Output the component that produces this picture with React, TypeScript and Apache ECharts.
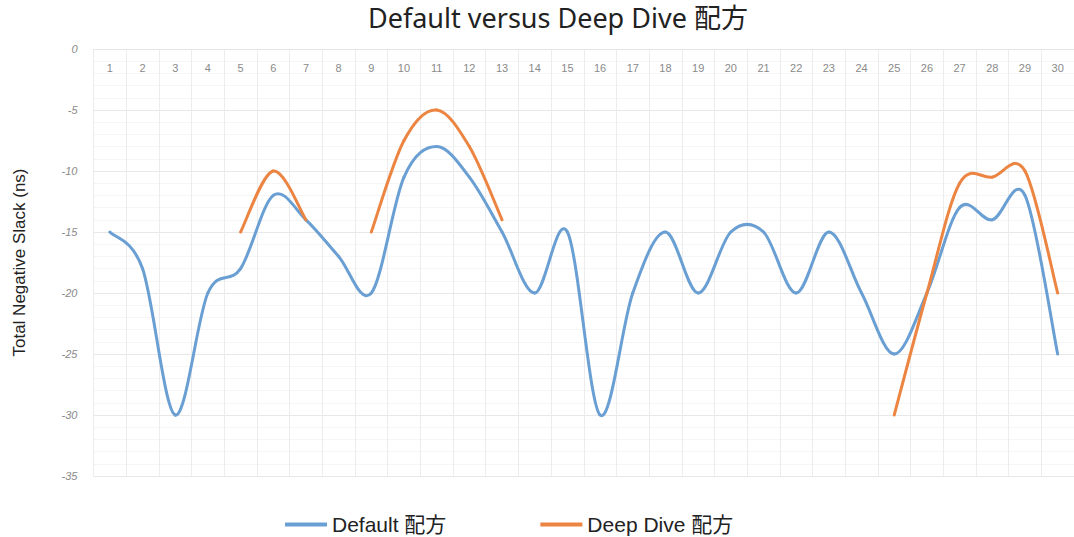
import React, { useEffect, useRef } from "react";
import * as echarts from "echarts";

const categories = Array.from({ length: 30 }, (_, i) => String(i + 1));
const defaultSeries: (number | null)[] = [
  -15, -18, -30, -20, -18, -12, -14, -17, -20, -10.5,
  -8, -10.5, -15, -20, -15, -30, -20, -15, -20, -15,
  -15, -20, -15, -20, -25, -20, -13, -14, -12, -25,
];
const deepDiveSeries: (number | null)[] = [
  null, null, null, null, -15, -10, -14, null, -15, -7.5,
  -5, -8, -14, null, null, null, null, null, null, null,
  null, null, null, null, -30, -20, -11, -10.5, -10, -20,
];
const yTicks = { min: -35, max: 0, interval: 5 };

const BLUE = "#6a9fd3";
const ORANGE = "#ec8442";

// Segment start indices where both ends exist
function segmentData(values: (number | null)[]) {
  const out: number[][] = [];
  for (let i = 0; i < values.length - 1; i++) {
    const a = values[i];
    const b = values[i + 1];
    if (a != null && b != null) out.push([i, a]);
  }
  return out;
}

function makeRenderItem(values: (number | null)[], color: string) {
  return (params: any, api: any) => {
    const i = api.value(0) as number;
    const v1 = values[i] as number;
    const v2 = values[i + 1] as number;
    const v0 = i - 1 >= 0 && values[i - 1] != null ? (values[i - 1] as number) : null;
    const v3 = i + 2 < values.length && values[i + 2] != null ? (values[i + 2] as number) : null;
    const p1 = api.coord([i, v1]);
    const p2 = api.coord([i + 1, v2]);
    const p0 = v0 != null ? api.coord([i - 1, v0]) : p1;
    const p3 = v3 != null ? api.coord([i + 2, v3]) : p2;
    const t = 1 / 6;
    const c1x = p1[0] + (p2[0] - p0[0]) * t;
    const c1y = p1[1] + (p2[1] - p0[1]) * t;
    const c2x = p2[0] - (p3[0] - p1[0]) * t;
    const c2y = p2[1] - (p3[1] - p1[1]) * t;
    const d = `M${p1[0]},${p1[1]} C${c1x},${c1y} ${c2x},${c2y} ${p2[0]},${p2[1]}`;
    return {
      type: "path",
      shape: { pathData: d },
      style: { fill: "none", stroke: color, lineWidth: 3, lineCap: "round", lineJoin: "round" },
    };
  };
}

export default function App() {
  const ref = useRef<HTMLDivElement>(null);
  useEffect(() => {
    if (!ref.current) return;
    const chart = echarts.init(ref.current, undefined, { renderer: "svg" });
    chart.setOption({
      animation: false,
      backgroundColor: "#ffffff",
      title: {
        text: "Default versus Deep Dive 配方",
        left: 368,
        top: 4,
        padding: 0,
        textStyle: {
          fontSize: 27,
          fontWeight: "normal",
          color: "#222",
          fontFamily: "'Noto Sans', 'Noto Sans CJK KR', sans-serif",
        },
      },
      legend: {
        left: 285,
        top: 514,
        padding: 0,
        itemWidth: 42,
        itemHeight: 4,
        itemGap: 94,
        icon: "rect",
        textStyle: {
          fontSize: 21,
          color: "#222",
          fontFamily: "'Liberation Sans', 'Noto Sans CJK KR', sans-serif",
        },
        data: ["Default 配方", "Deep Dive 配方"],
      },
      grid: { left: 93.5, right: -8.5, top: 49, bottom: 61, containLabel: false },
      xAxis: [
        {
          type: "category",
          data: categories,
          position: "top",
          boundaryGap: true,
          axisLine: { show: true, lineStyle: { color: "#e6e6e6" } },
          axisTick: { show: false },
          axisLabel: {
            inside: true,
            margin: 13,
            fontSize: 11,
            color: "#8a8a8a",
            fontFamily: "'Liberation Sans', sans-serif",
          },
          splitLine: { show: true, interval: 0, lineStyle: { color: "#ececec", width: 1 } },
        },
        {
          type: "value",
          min: 0.5,
          max: 30.5,
          interval: 1,
          show: false,
          position: "bottom",
          splitLine: { show: false },
          minorTick: { show: false, splitNumber: 4 },
          minorSplitLine: { show: true, lineStyle: { color: "#f6f6f6", width: 1 } },
        },
      ],
      yAxis: {
        type: "value",
        min: yTicks.min,
        max: yTicks.max,
        interval: yTicks.interval,
        name: "Total Negative Slack (ns)",
        nameLocation: "middle",
        nameGap: 66,
        nameTextStyle: {
          fontSize: 17,
          color: "#222",
          fontFamily: "'Liberation Sans', sans-serif",
        },
        axisLine: { show: false },
        axisTick: { show: false },
        axisLabel: {
          margin: 16,
          fontSize: 11,
          fontStyle: "italic",
          color: "#8a8a8a",
          fontFamily: "'Liberation Sans', sans-serif",
        },
        splitLine: { show: true, lineStyle: { color: "#e8e8e8", width: 1 } },
        minorTick: { show: false, splitNumber: 5 },
        minorSplitLine: { show: true, lineStyle: { color: "#f5f5f5", width: 1 } },
      },
      series: [
        {
          name: "Default 配方",
          type: "custom",
          xAxisIndex: 0,
          yAxisIndex: 0,
          data: segmentData(defaultSeries),
          encode: { x: 0, y: 1 },
          itemStyle: { color: BLUE },
          renderItem: makeRenderItem(defaultSeries, BLUE),
          z: 2,
        },
        {
          name: "Deep Dive 配方",
          type: "custom",
          xAxisIndex: 0,
          yAxisIndex: 0,
          data: segmentData(deepDiveSeries),
          encode: { x: 0, y: 1 },
          itemStyle: { color: ORANGE },
          renderItem: makeRenderItem(deepDiveSeries, ORANGE),
          z: 3,
        },
      ],
    });
    return () => chart.dispose();
  }, []);
  return (
    <div
      ref={ref}
      style={{ position: "fixed", left: 0, top: 0, width: 1074, height: 537 }}
    />
  );
}
